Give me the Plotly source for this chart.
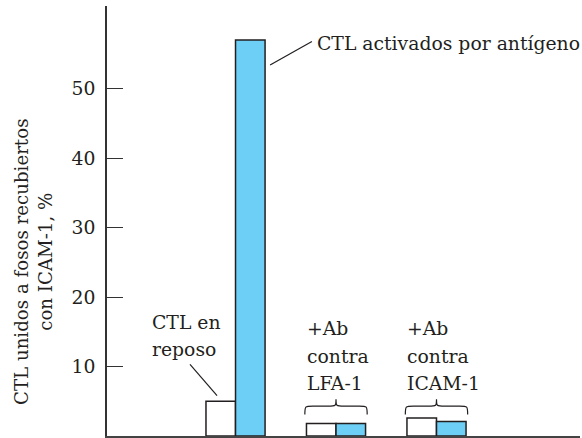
import plotly.graph_objects as go

# ---- data ----
groups = ["CTL en reposo", "+Ab contra LFA-1", "+Ab contra ICAM-1"]
group_pos = [0, 1, 2]
resting = [5.0, 1.8, 2.6]
activated = [57.0, 1.8, 2.1]
y_ticks = [10, 20, 30, 40, 50]

FONT = "DejaVu Serif"
FS = 18.8
INK = "#231F20"
BLUE = "#6DCFF6"
BW = 0.294  # bar width in axis units

fig = go.Figure()
fig.add_trace(go.Bar(x=group_pos, y=resting, name="reposo", hoverinfo="skip",
                     marker=dict(color="white", line=dict(color=INK, width=1.5))))
fig.add_trace(go.Bar(x=group_pos, y=activated, name="activados", hoverinfo="skip",
                     marker=dict(color=BLUE, line=dict(color=INK, width=1.5))))

shapes = []
annotations = []

# leader line for activated bar
shapes.append(dict(type="line", xref="x", yref="y",
                   x0=group_pos[0] + BW + 0.05, y0=activated[0] - 3.6,
                   x1=group_pos[0] + 0.76, y1=activated[0] - 0.2,
                   line=dict(color=INK, width=1.2)))
annotations.append(dict(x=group_pos[0] + 0.79, y=56.5, xref="x", yref="y",
                        text="CTL activados por antígeno", showarrow=False,
                        xanchor="left", yanchor="middle",
                        font=dict(family=FONT, size=FS, color=INK)))

# leader line for resting bar
shapes.append(dict(type="line", xref="x", yref="y",
                   x0=group_pos[0] - 0.453, y0=resting[0] + 5.3,
                   x1=group_pos[0] - 0.184, y1=resting[0] + 0.8,
                   line=dict(color=INK, width=1.2)))
for txt, yy in [("CTL en", 16.3), ("reposo", 12.4)]:
    annotations.append(dict(x=group_pos[0] - 0.851, y=yy, xref="x", yref="y",
                            text=txt, showarrow=False, xanchor="left", yanchor="middle",
                            font=dict(family=FONT, size=FS, color=INK)))

# antibody group labels and braces
ab_labels = [["+Ab", "contra", "LFA-1"], ["+Ab", "contra", "ICAM-1"]]
for gi, lines in zip(group_pos[1:], ab_labels):
    for txt, yy in zip(lines, [15.5, 11.5, 7.5]):
        annotations.append(dict(x=gi - 0.31, y=yy, xref="x", yref="y",
                                text=txt, showarrow=False, xanchor="left", yanchor="middle",
                                font=dict(family=FONT, size=FS, color=INK)))
    x0, x1, dx = gi - 0.31, gi + 0.31, 0.08
    ye, ym, yt = 3.1, 4.3, 5.3
    path = (f"M {x0},{ye} C {x0},{ym} {x0},{ym} {x0+dx},{ym} "
            f"L {gi-dx},{ym} C {gi},{ym} {gi},{ym} {gi},{yt} "
            f"C {gi},{ym} {gi},{ym} {gi+dx},{ym} "
            f"L {x1-dx},{ym} C {x1},{ym} {x1},{ym} {x1},{ye}")
    shapes.append(dict(type="path", xref="x", yref="y", path=path,
                       line=dict(color=INK, width=1.2)))

# y axis title
annotations.append(dict(x=-0.155, y=0.404, xref="paper", yref="paper",
                        text="CTL unidos a fosos recubiertos<br>con ICAM-1, %",
                        textangle=-90, showarrow=False, xanchor="center", yanchor="middle",
                        font=dict(family=FONT, size=18.2, color=INK)))

fig.update_layout(
    width=582, height=438,
    margin=dict(l=107, r=2, t=6, b=2),
    paper_bgcolor="white", plot_bgcolor="white",
    barmode="group", bargap=0.412, bargroupgap=0,
    showlegend=False, hovermode=False,
    shapes=shapes, annotations=annotations,
    font=dict(family=FONT, size=FS, color=INK),
    xaxis=dict(range=[-1.279, 3.428], showline=True, linecolor="#444", linewidth=1.5,
               showticklabels=False, ticks="", showgrid=False, zeroline=False),
    yaxis=dict(range=[0, 61.9], showline=True, linecolor="#333", linewidth=1.5,
               tickvals=y_ticks, ticks="inside", ticklen=16, tickwidth=1.2, tickcolor="#333",
               showgrid=False, zeroline=False, ticklabelstandoff=6,
               tickfont=dict(family=FONT, size=FS, color=INK)),
)

fig.write_html("out.html", config={"displayModeBar": False},
               post_script="document.body.style.margin='0';document.body.style.overflow='hidden';")
